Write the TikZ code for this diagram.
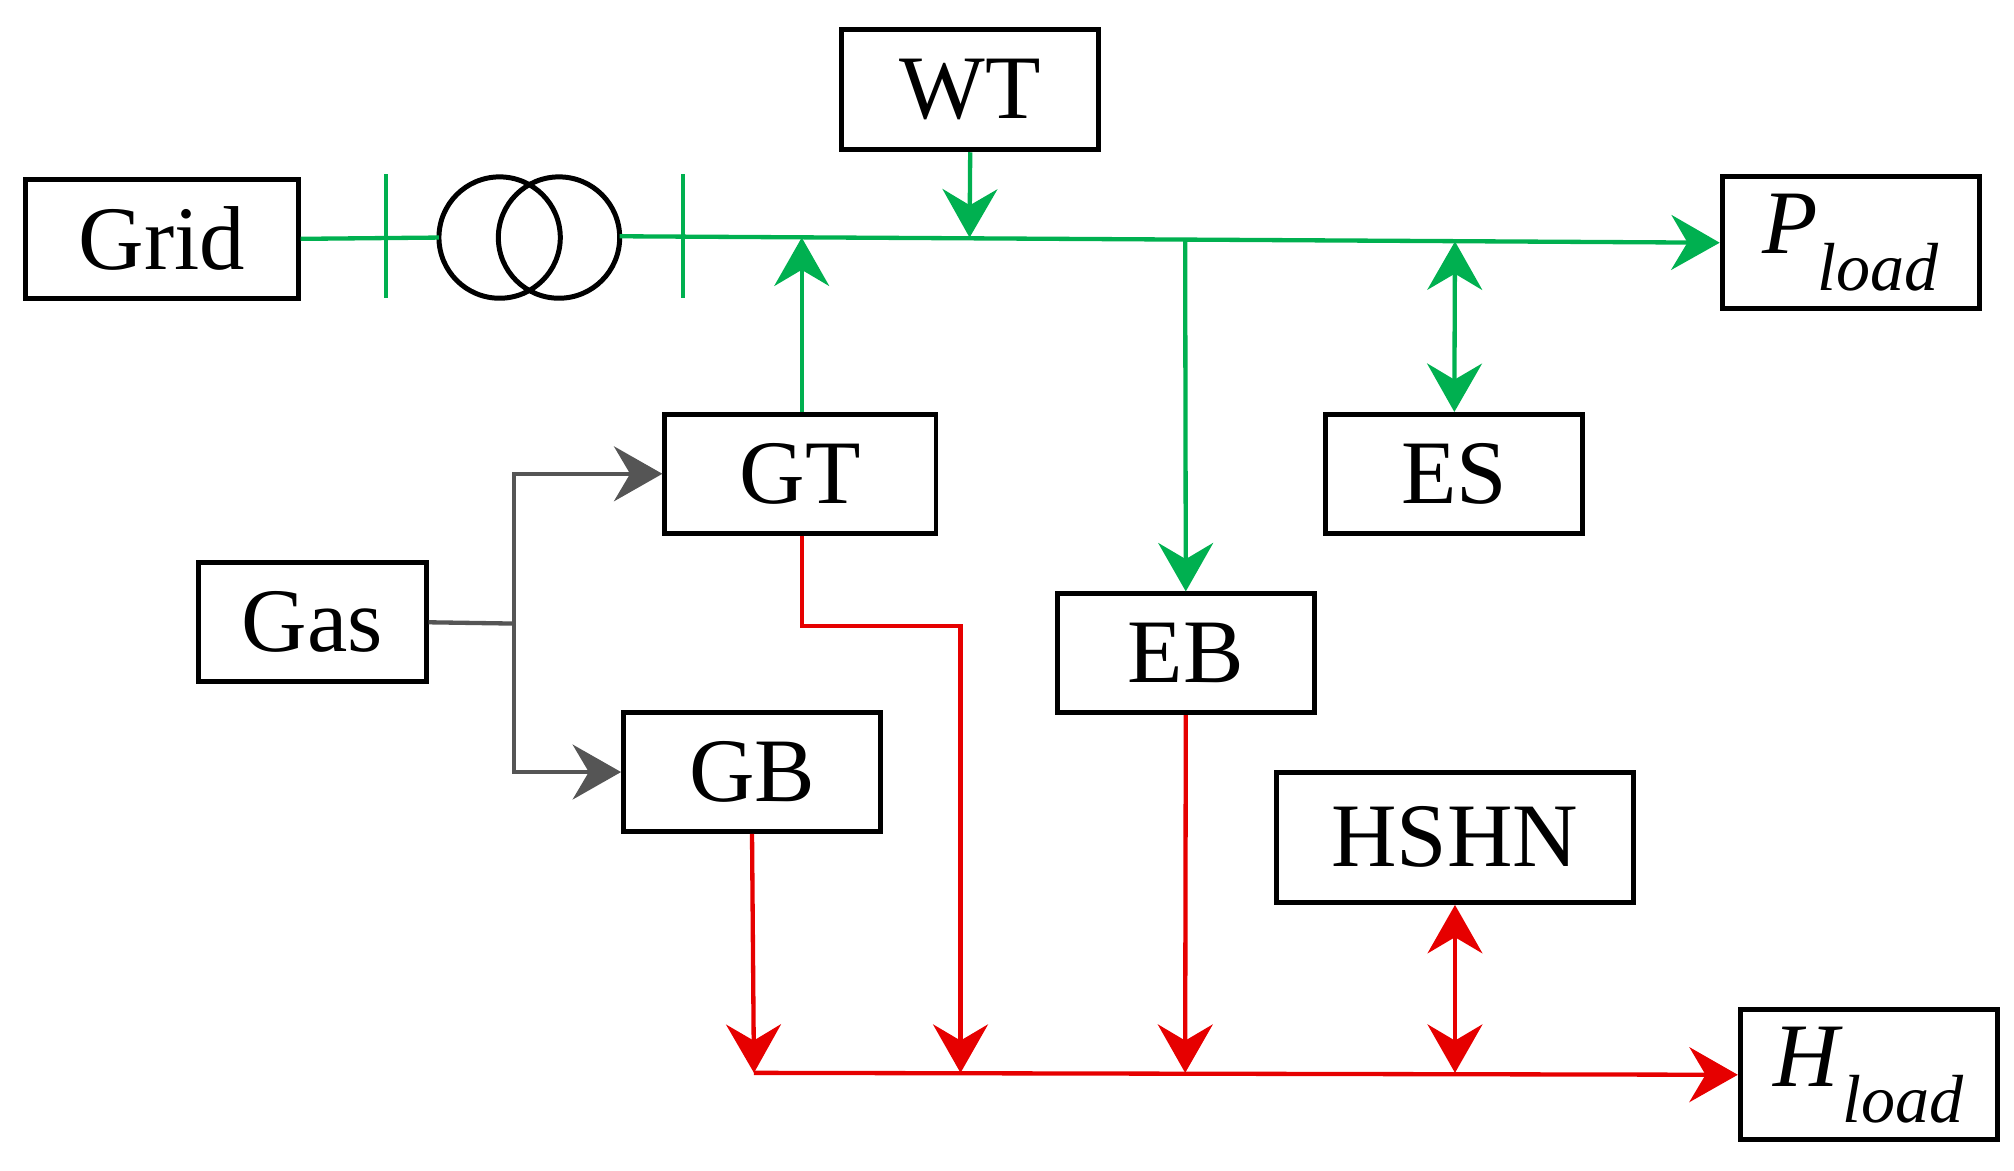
\documentclass[tikz,border=0pt]{standalone}
\usepackage{fontspec}
\setmainfont{Liberation Serif}
\usetikzlibrary{arrows.meta}
\definecolor{gr}{RGB}{0,176,80}
\definecolor{rd}{RGB}{230,0,0}
\definecolor{gy}{RGB}{85,85,85}
\newcommand{\sbs}[2]{\textit{#1}\raisebox{-0.4em}{\fontsize{30}{30}\selectfont\textit{#2}}}
\begin{document}
\begin{tikzpicture}[x=0.02cm,y=-0.02cm,
 box/.style={draw,line width=2.2pt,minimum width=#1*0.02cm,inner sep=0pt,font=\fontsize{40}{48}\selectfont},
 ar/.style={-{Stealth[length=0.75cm,width=0.85cm,inset=0.25cm]}},
 dar/.style={{Stealth[length=0.75cm,width=0.85cm,inset=0.25cm]}-{Stealth[length=0.75cm,width=0.85cm,inset=0.25cm]}},
 g/.style={draw=gr,line width=1.9pt},
 r/.style={draw=rd,line width=1.9pt},
 k/.style={draw=gy,line width=1.9pt}]
\useasboundingbox (0,0) rectangle (1560,907);
\node[box=211,minimum height=1.84cm] (grid) at (125.5,185) {Grid};
\node[box=199,minimum height=1.86cm] (wt) at (751.5,69.5) {WT};
\node[box=199,minimum height=2.04cm] (pl) at (1433.5,188) {\sbs{P}{load}};
\node[box=210,minimum height=1.84cm] (gt) at (620,367) {GT};
\node[box=199,minimum height=1.84cm] (es) at (1126.5,367) {ES};
\node[box=176,minimum height=1.84cm] (gas) at (242,482) {Gas};
\node[box=199,minimum height=1.84cm] (eb) at (918.5,506) {EB};
\node[box=199,minimum height=1.84cm] (gb) at (582.5,598) {GB};
\node[box=276,minimum height=2.02cm] (hs) at (1127,648.5) {HSHN};
\node[box=199,minimum height=2.02cm] (hl) at (1447.5,832.5) {\sbs{H}{load}};
% transformer
\draw[line width=2.2pt] (387,184) circle (47) (433,184) circle (47);
\coordinate (t1) at (340,184); \coordinate (t2) at (480,183);
\draw[g] (grid.east) -- (t1);
\draw[g] (299,135) -- (299,231) (529,135) -- (529,231);
\coordinate (wb) at (751,184); \coordinate (gtb) at (621,184);
\coordinate (ebb) at (918,186); \coordinate (esb) at (1127,187);
\draw[g,ar] (t2) -- (pl.west);
\draw[g,ar] (wt.south) -- (wb);
\draw[g,ar] (gt.north -| gtb) -- (gtb);
\draw[g,ar] (ebb) -- (eb.north);
\draw[g,dar] (esb) -- (es.north);
% gas
\coordinate (gj) at (398,483);
\draw[k] (gas.east) -- (gj);
\draw[k,ar] (gj) |- (gt.west);
\draw[k,ar] (gj) |- (gb.west);
% heat
\coordinate (h1) at (584,831); \coordinate (h2) at (744,831);
\coordinate (h3) at (918,831); \coordinate (h4) at (1127,831);
\draw[r,ar] (gt.south -| 621,0) -- (621,485) -- (744,485) -- (h2);
\draw[r,ar] (gb.south) -- (h1);
\draw[r,ar] (eb.south) -- (h3);
\draw[r,dar] (h4) -- (hs.south);
\draw[r,ar] (h1) -- (hl.west);
\end{tikzpicture}
\end{document}
